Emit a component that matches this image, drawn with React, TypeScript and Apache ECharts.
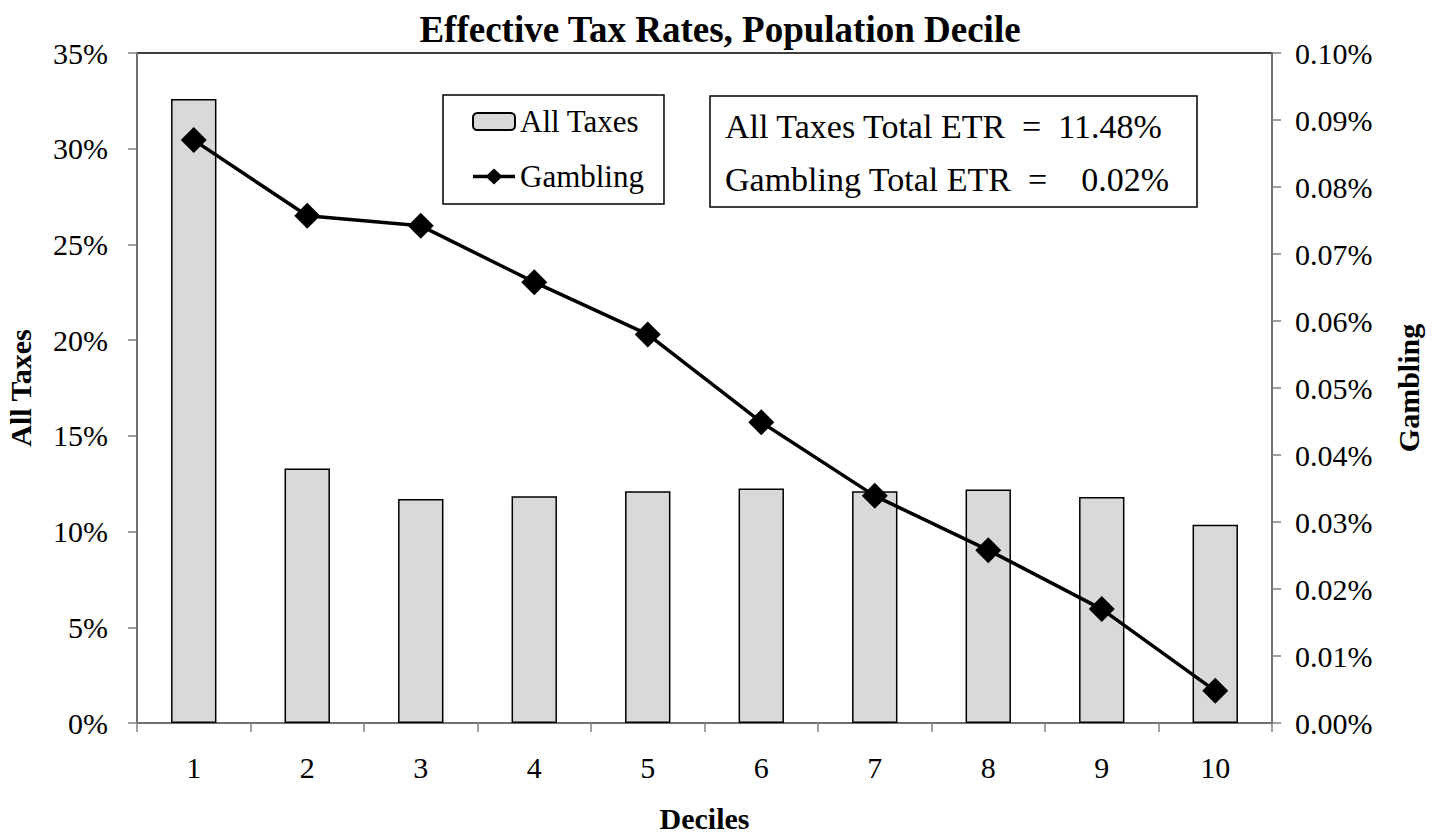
import React, { useEffect, useRef } from "react";
import * as echarts from "echarts";

const categories = ["1", "2", "3", "4", "5", "6", "7", "8", "9", "10"];
const allTaxes = [32.6, 13.3, 11.7, 11.85, 12.1, 12.25, 12.1, 12.2, 11.8, 10.35];
const gambling = [0.087, 0.0757, 0.0742, 0.0658, 0.058, 0.0449, 0.0339, 0.0258, 0.017, 0.0048];
const leftTicks = { min: 0, max: 35, interval: 5 };
const rightTicks = { min: 0, max: 0.1, interval: 0.01 };
const summaryLines = ["All Taxes Total ETR  =  11.48%", "Gambling Total ETR  =    0.02%"];

const FONT = "Liberation Serif";
const LINE_ICON = "path://M0,6.75 L44,6.75 L44,10.25 L0,10.25 Z M22,0 L31,8.5 L22,17 L13,8.5 Z";

export default function App() {
  const ref = useRef<HTMLDivElement>(null);
  useEffect(() => {
    if (!ref.current) return;
    const chart = echarts.init(ref.current, undefined, { renderer: "svg" });
    const axisLine = { show: true, lineStyle: { color: "#808080", width: 1.5 } };
    const tick = { show: true, length: 9, lineStyle: { color: "#808080", width: 1.5 } };
    const label = { color: "#000", fontFamily: FONT, fontSize: 30 };
    const nameStyle = { fontFamily: FONT, fontSize: 30, fontWeight: "bold", color: "#000" };
    chart.setOption({
      animation: false,
      backgroundColor: "#fff",
      textStyle: { fontFamily: FONT },
      title: {
        text: "Effective Tax Rates, Population Decile",
        left: "center",
        top: 6,
        textStyle: { fontFamily: FONT, fontSize: 37, fontWeight: "bold", color: "#000" },
      },
      grid: {
        left: 137,
        right: 168,
        top: 53,
        bottom: 111,
        containLabel: false,
        outerBoundsMode: "none",
        show: true,
        borderColor: "#000",
        borderWidth: 1.5,
        backgroundColor: "transparent",
      },
      legend: {
        orient: "vertical",
        left: 443,
        top: 95,
        width: 230,
        padding: [11, 20, 12, 29],
        borderColor: "#000",
        borderWidth: 1.5,
        itemGap: 24,
        itemWidth: 42,
        itemHeight: 17,
        textStyle: { fontFamily: FONT, fontSize: 31, color: "#000" },
        data: [
          { name: "All Taxes" },
          { name: "Gambling", icon: LINE_ICON, itemStyle: { color: "#000", borderWidth: 0 } },
        ],
      },
      xAxis: {
        type: "category",
        data: categories,
        name: "Deciles",
        nameLocation: "middle",
        nameGap: 80,
        nameTextStyle: nameStyle,
        axisLine,
        axisTick: tick,
        axisLabel: { ...label, margin: 29 },
      },
      yAxis: [
        {
          type: "value",
          ...leftTicks,
          name: "All Taxes",
          nameLocation: "middle",
          nameRotate: 90,
          nameGap: 102,
          nameTextStyle: nameStyle,
          axisLine,
          axisTick: tick,
          splitLine: { show: false },
          axisLabel: { ...label, margin: 29, formatter: (v: number) => `${v}%` },
        },
        {
          type: "value",
          ...rightTicks,
          name: "Gambling",
          nameLocation: "middle",
          nameRotate: 90,
          nameGap: 121,
          nameTextStyle: nameStyle,
          axisLine,
          axisTick: tick,
          splitLine: { show: false },
          axisLabel: { ...label, margin: 23, formatter: (v: number) => `${v.toFixed(2)}%` },
        },
      ],
      series: [
        {
          name: "All Taxes",
          type: "bar",
          data: allTaxes,
          yAxisIndex: 0,
          barCategoryGap: "60%",
          itemStyle: { color: "#d9d9d9", borderColor: "#000", borderWidth: 1.5 },
        },
        {
          name: "Gambling",
          type: "line",
          data: gambling,
          yAxisIndex: 1,
          symbol: "diamond",
          symbolSize: 26,
          lineStyle: { color: "#000", width: 3.5 },
          itemStyle: { color: "#000" },
        },
      ],
      graphic: [
        {
          type: "rect",
          shape: { x: 710, y: 96, width: 487, height: 111 },
          style: { fill: "#fff", stroke: "#000", lineWidth: 1.5 },
          z: 10,
        },
        ...summaryLines.map((t, i) => ({
          type: "text",
          x: 725,
          y: 126 + i * 53,
          style: { text: t, font: `34px ${FONT}`, fill: "#000", textVerticalAlign: "middle", whiteSpace: "pre" },
          z: 11,
        })),
      ],
    });
    return () => chart.dispose();
  }, []);
  return <div ref={ref} style={{ width: 1440, height: 834, position: "absolute", left: 0, top: 0 }} />;
}
